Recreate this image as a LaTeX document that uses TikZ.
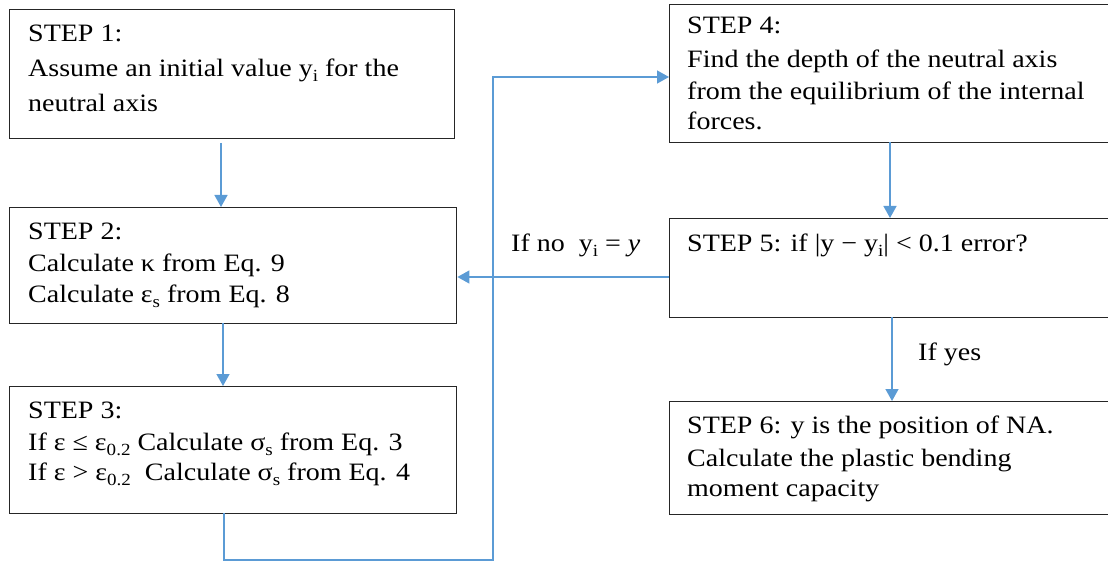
\documentclass[tikz,border=0pt]{standalone}
\usepackage{fontspec}
\setmainfont[FakeStretch=1.12]{Liberation Serif}
\usetikzlibrary{arrows.meta}
\definecolor{arrblue}{HTML}{5B9BD5}
\definecolor{boxline}{HTML}{262626}
\newcommand\lsub[1]{\raisebox{-5pt}{\fontsize{17}{17}\selectfont #1}}
\tikzset{
  stepbox/.style={draw=boxline, line width=1.4pt, inner sep=0pt, anchor=north west, fill=white},
  txt/.style={anchor=base west, inner sep=0pt, font=\fontsize{25}{30}\selectfont},
  arr/.style={draw=arrblue, line width=1.4pt, -{Triangle[length=12pt,width=13pt]}},
  flow/.style={draw=arrblue, line width=1.4pt}
}
\begin{document}
\begin{tikzpicture}[x=1pt,y=-1pt]
\useasboundingbox (0,0) rectangle (1108,561);
\clip (0,0) rectangle (1108,561);
% boxes
\node[stepbox, minimum width=445pt, minimum height=129pt] (s1) at (9,9) {};
\node[stepbox, minimum width=447pt, minimum height=116pt] (s2) at (9,207) {};
\node[stepbox, minimum width=447pt, minimum height=127pt] (s3) at (9,386) {};
\node[stepbox, minimum width=450pt, minimum height=138pt] (s4) at (669,4) {};
\node[stepbox, minimum width=450pt, minimum height=99pt] (s5) at (669,218) {};
\node[stepbox, minimum width=450pt, minimum height=113pt] (s6) at (669,401) {};
% texts
\node[txt] (t1a) at (28,42) {STEP 1:};
\node[txt] (t1b) at (28,77) {Assume an initial value y\lsub{i} for the};
\node[txt] (t1c) at (28,112) {neutral axis};
\node[txt] (t2a) at (28,240) {STEP 2:};
\node[txt] (t2b) at (28,272) {Calculate κ from Eq. 9};
\node[txt] (t2c) at (28,302) {Calculate ε\lsub{s} from Eq. 8};
\node[txt] (t3a) at (28,418) {STEP 3:};
\node[txt] (t3b) at (28,450) {If ε ≤ ε\lsub{0.2} Calculate σ\lsub{s} from Eq. 3};
\node[txt] (t3c) at (28,480) {If ε > ε\lsub{0.2}\ \ Calculate σ\lsub{s} from Eq. 4};
\node[txt] (t4a) at (687,34) {STEP 4:};
\node[txt] (t4b) at (687,68) {Find the depth of the neutral axis};
\node[txt] (t4c) at (687,100) {from the equilibrium of the internal};
\node[txt] (t4d) at (687,130) {forces.};
\node[txt] (t5a) at (687,252) {STEP 5: if |y − y\lsub{i}| < 0.1 error?};
\node[txt] (t6a) at (687,433) {STEP 6: y is the position of NA.};
\node[txt] (t6b) at (687,466) {Calculate the plastic bending};
\node[txt] (t6c) at (687,496) {moment capacity};
\node[txt] (lno) at (511,252) {If no\ \ y\lsub{i} = \textit{y}};
\node[txt] (lyes) at (918,360) {If yes};
% connectors
\coordinate (c1) at (221,143);
\draw[arr] (c1) -- (c1 |- s2.north);
\coordinate (c2) at (223,323);
\draw[arr] (c2) -- (c2 |- s3.north);
\coordinate (c3a) at (224,513);
\coordinate (c3b) at (224,560);
\coordinate (c3c) at (493,560);
\coordinate (c3d) at (493,77);
\draw[arr] (c3a) -- (c3b) -- (c3c) -- (c3d) -- (c3d -| s4.west);
\coordinate (c4) at (890,142);
\draw[arr] (c4) -- (c4 |- s5.north);
\coordinate (c5) at (669,277);
\draw[arr] (c5) -- (c5 -| s2.east);
\coordinate (c6) at (892,317);
\draw[arr] (c6) -- (c6 |- s6.north);
\end{tikzpicture}
\end{document}
